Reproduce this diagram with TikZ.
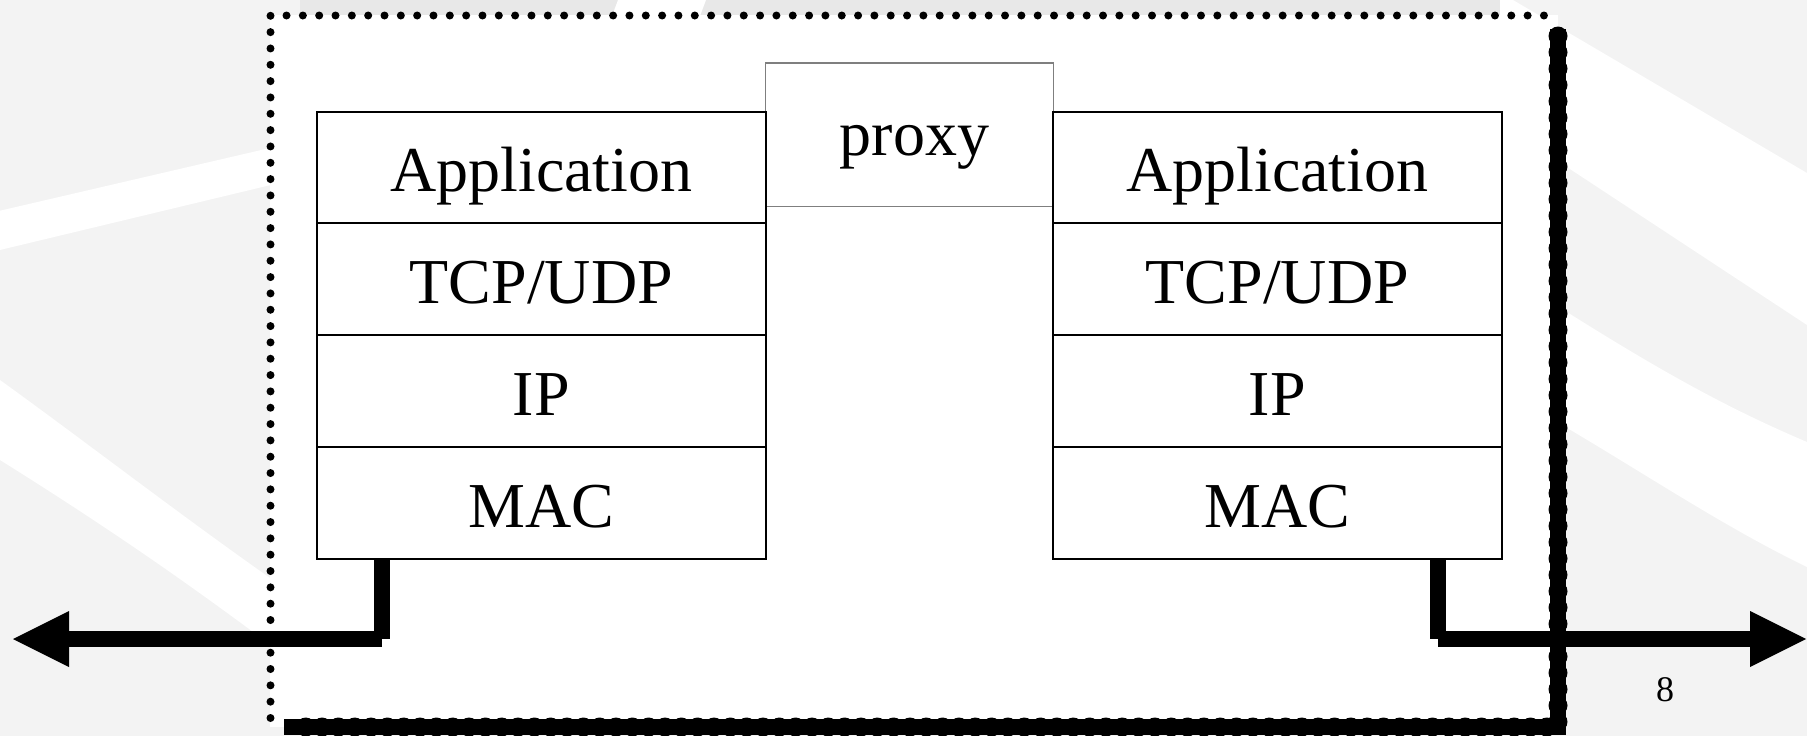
\documentclass[tikz,border=0pt]{standalone}
\usepackage{fontspec}
\setmainfont{Liberation Serif}
\usetikzlibrary{arrows.meta}
\definecolor{slidebg}{HTML}{F3F3F3}
\definecolor{slidetop}{HTML}{E8E8E8}
\definecolor{proxyline}{HTML}{7F7F7F}
\tikzset{
  layer/.style={draw=black, line width=2pt, fill=white, inner sep=0pt,
    minimum width=448.6pt, minimum height=111.8pt,
    font=\fontsize{64pt}{70pt}\selectfont, text height=48.6pt, text depth=0pt},
  proxybox/.style={draw=proxyline, line width=1.5pt, fill=white, inner sep=0pt,
    minimum width=288pt, minimum height=143.5pt,
    font=\fontsize{64pt}{70pt}\selectfont, text height=42pt, text depth=0pt},
  wire/.style={line width=16pt, line cap=butt},
  wiretip/.style={-{Triangle[length=56pt, width=56pt, line width=0pt]}},
  thindots/.style={line width=8pt, line cap=round, dash pattern=on 0pt off 16.33pt},
  thickdots/.style={line width=19pt, line cap=round, dash pattern=on 0pt off 16.33pt},
  swoosh/.style={fill=white},
}
\begin{document}
\begin{tikzpicture}[x=1pt, y=-1pt]
\useasboundingbox (0,0) rectangle (1807,736);

% slide background with its white swooshes
\fill[slidebg] (0,0) rectangle (1807,736);
\fill[slidetop] (300,0) rectangle (1513,16);
\fill[swoosh] (618,0) -- (706,0) -- (700,16) -- (612,16) -- cycle;
\fill[swoosh] (0,210.7) -- (300,141) -- (300,178) -- (0,250) -- cycle;
\fill[swoosh] (0,380) .. controls (90,445) and (180,515) .. (280,585)
  -- (280,652) .. controls (200,592) and (120,535) .. (0,460) -- cycle;
\fill[swoosh] (1513,0) -- (1807,173) -- (1807,325) -- (1500,123) -- (1500,0) -- cycle;
\fill[swoosh] (1540,295) .. controls (1650,365) and (1720,405) .. (1807,442)
  -- (1807,567) .. controls (1720,525) and (1640,470) .. (1540,412) -- cycle;

% dotted frame with its heavy shadow edges
\fill[white] (270,15) rectangle (1558,727);
\draw[thindots] (270.5,718) -- (270.5,15.5) -- (1550,15.5);
\draw[line width=16pt, line cap=butt] (1558,29) -- (1558,727) -- (284,727);
\draw[thickdots] (1558,36) -- (1558,727) -- (290,727);

% proxy box between the two stacks
\node[proxybox] (proxy) at (909.5,134.7) {\hspace*{10pt}proxy};

% left protocol stack
\node[layer] (appL) at (541.3,167.4) {Application};
\node[layer] (tcpL) at (541.3,279.2) {TCP/UDP};
\node[layer] (ipL)  at (541.3,391.0) {IP};
\node[layer] (macL) at (541.3,502.9) {MAC};

% right protocol stack
\node[layer] (appR) at (1277.3,167.4) {Application};
\node[layer] (tcpR) at (1277.3,279.2) {TCP/UDP};
\node[layer] (ipR)  at (1277.3,391.0) {IP};
\node[layer] (macR) at (1277.3,502.9) {MAC};

% links out of the MAC layers
\coordinate (lbend) at (381.5,639);
\coordinate (ltip)  at (13,639);
\coordinate (rbend) at (1438,639);
\coordinate (rtip)  at (1806,639);
\draw[wire] (macL.south -| lbend) -- (lbend);
\draw[wire, wiretip] (lbend) -- (ltip);
\draw[wire] (macR.south -| rbend) -- (rbend);
\draw[wire, wiretip] (rbend) -- (rtip);

% page number
\node[font=\fontsize{36pt}{40pt}\selectfont, anchor=base, inner sep=0pt] (page) at (1665,701.7) {8};
\end{tikzpicture}
\end{document}
